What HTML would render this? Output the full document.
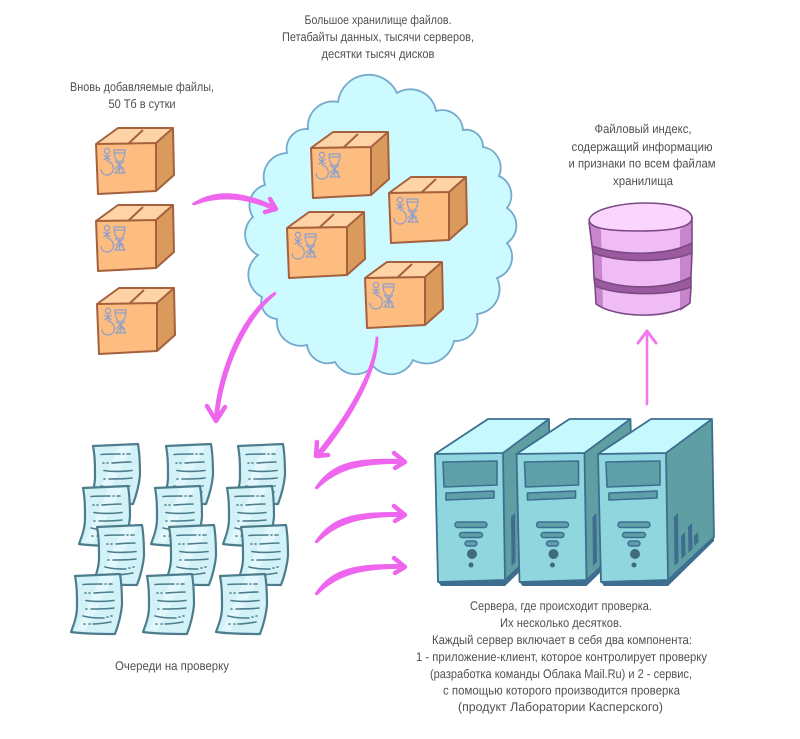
<!DOCTYPE html>
<html lang="ru"><head><meta charset="utf-8"><title>Схема</title>
<style>
html,body{margin:0;padding:0;background:#fff}
svg{display:block}
text{font-family:"Liberation Sans","DejaVu Sans",sans-serif;font-size:12.5px;fill:#505050;text-anchor:middle;text-rendering:geometricPrecision}
</style></head>
<body>
<svg width="800" height="739" viewBox="0 0 800 739" xmlns="http://www.w3.org/2000/svg">
<defs>
<g id="box" stroke-linejoin="round">
  <path d="M0,16 L22,0 L77,0 L60,15 Z" fill="#fed3a5"/>
  <path d="M60,15 L77,0 L78,47 L60,63 Z" fill="#d99a5c"/>
  <path d="M0,16 L60,15 L60,63 L2,66 Z" fill="#fdbd80"/>
  <path d="M0,16 L22,0 L77,0 L78,47 L60,63 L2,66 Z M0,16 L60,15 L77,0 M60,15 L60,63 M32,16 L47,2" fill="none" stroke="#a5613d" stroke-width="2"/>
  <g fill="none" stroke="#8f9fcb" stroke-width="1.2">
    <circle cx="11" cy="23" r="2.6"/>
    <path d="M11,26 L11,33 M7.500,27 L14.500,32 M14.500,27 L7.500,32"/>
    <path d="M11,33 C20,35 19,47 11,47 C7,47 5,44 5,41"/>
    <path d="M18,22 L29,22 C29,29 27,33 23.500,34 C20,33 18,29 18,22 Z M18.500,25 L28.500,25"/>
    <path d="M23.500,34 L23.500,44 M19,33 L28,41 M28,33 L19,41 M19,45 L29,45 L24,39 Z"/>
  </g>
</g>
<g id="paper" stroke-linejoin="round">
  <path d="M4,2 L49,0 C51,12 51,22 51,31 C50,42 47,52 44,60 C30,60 14,60 0,58 C3,50 6,42 6,33 C6,22 6,12 4,2 Z" fill="#d2f2f8" stroke="#4d7d8c" stroke-width="2.200"/>
  <path d="M30,2 L44,2 L14,57 L6,56 Z" fill="#e9fbfd" opacity=".7"/>
  <g fill="none" stroke="#4d7d8c" stroke-width="1.600" stroke-linecap="round">
    <path d="M12,10.500 C20,10 26,10 31,10 M34,10 L35,10 M38,10 L41,10"/>
    <path d="M14,19 L15,19 M18,19 L19,19 M23,19 C30,18.500 36,18 42,18"/>
    <path d="M15,26.500 C24,28 34,27.500 43,26.500"/>
    <path d="M15,35 L16,35 M20,35 C28,35 36,35 43,34"/>
    <path d="M12,42 C20,44 26,44 33,44 M36,43 L37,43 M40,42 L41,42"/>
    <path d="M13,50 L14,50 M18,50 L19,50 M22,50 C28,50 34,49 40,48"/>
  </g>
</g>
<g id="server" stroke-linejoin="round">
  <path d="M3,163 L6,167 L70,167 L116,122 L116,118 L70,161 Z" fill="#3d6e8f"/>
  <path d="M0,35 L53,0 L114,0 L68,34 Z" fill="#c6f9fd"/>
  <path d="M68,34 L114,0 L116,118 L70,161 Z" fill="#5f9fa3"/>
  <path d="M0,35 L68,34 L70,161 L3,163 Z" fill="#8fd6df"/>
  <path d="M0,35 L53,0 L114,0 L116,118 L70,161 L3,163 Z M0,35 L68,34 L114,0 M68,34 L70,161" fill="none" stroke="#3d6e8f" stroke-width="1.800"/>
  <path d="M8,43 L62,42 L62,66 L9,68 Z" fill="#5fa0a8" stroke="#3d6e8f" stroke-width="1.600"/>
  <path d="M11,74 L59,72 L59,79 L11,81 Z" fill="#5fa0a8" stroke="#3d6e8f" stroke-width="1.600"/>
  <rect x="20" y="103" width="32" height="5.500" rx="2.700" fill="#5fa0a8" stroke="#3d6e8f" stroke-width="1.400"/>
  <rect x="24.500" y="113.500" width="23" height="5" rx="2.500" fill="#5fa0a8" stroke="#3d6e8f" stroke-width="1.400"/>
  <rect x="30" y="122" width="12" height="5" rx="2.500" fill="#5fa0a8" stroke="#3d6e8f" stroke-width="1.400"/>
  <circle cx="37" cy="135" r="5" fill="#3f6b7a"/>
  <circle cx="36" cy="146" r="2.500" fill="#3f6b7a"/>
  <path d="M76,98 L80,94 L80.500,143 L76.500,147 Z" fill="#3d6e8f"/>
</g>
</defs>

<!-- cloud -->
<path d="M338,102 A31,31 0 0 1 397,93 A26,26 0 0 1 436,111 A21,21 0 0 1 463,130 A17,17 0 0 1 483,147 A21,21 0 0 1 499,176 A21,21 0 0 1 507,208 A21,21 0 0 1 507,243 A22,22 0 0 1 497,278 A25,25 0 0 1 477,314 A22,22 0 0 1 454,341 A28,28 0 0 1 413,360 A24,24 0 0 1 373,366 A23,23 0 0 1 335,362 A21,21 0 0 1 307,345 A24,24 0 0 1 277,319 A17,17 0 0 1 262,297 A25,25 0 0 1 258,255 A23,23 0 0 1 253,217 A21,21 0 0 1 265,185 A24,24 0 0 1 287,153 A20,20 0 0 1 308,129 A25,25 0 0 1 338,102 Z" fill="#ccfaff" stroke="#74a9cc" stroke-width="1.800"/>

<!-- boxes -->
<use href="#box" x="96" y="128"/>
<use href="#box" x="96" y="205"/>
<use href="#box" x="97" y="288"/>
<use href="#box" x="311" y="132"/>
<use href="#box" x="389" y="177"/>
<use href="#box" x="287" y="212"/>
<use href="#box" x="365" y="262"/>

<!-- database -->
<g stroke-linejoin="round">
  <path d="M589,222 L592,246 L594,279 L596,304 C615,318 670,320 690,303 L691,277 L692,243 L692,217 Z" fill="#f0bcf5"/>
  <path d="M589,222 L592,246 L594,279 L596,304 C598,306 600,307 603,308 L601,230 Z" fill="#c985cc"/>
  <path d="M680,230 L680,311 C684,309 687,306 690,303 L691,277 L692,243 L692,217 Z" fill="#c985cc"/>
  <path d="M592,246 C620,256 668,256 692,243 L692,253 C668,263 620,263 593,253 Z" fill="#9b5a9e"/>
  <path d="M594,278 C620,290 668,290 691,277 L691,287 C668,296 620,296 595,286 Z" fill="#9b5a9e"/>
  <path d="M589,220 C592,208 625,203 645,203 C670,203 690,208 692,217 C693,225 680,231 640,231 C605,231 590,228 589,220 Z" fill="#fcd5ff" stroke="#7a4a85" stroke-width="1.600"/>
  <path d="M589,222 L592,246 L593,253 L594,278 L595,286 L596,304 C615,318 670,320 690,303 L691,287 L691,277 L692,253 L692,217 M592,246 C620,256 668,256 692,243 M593,253 C620,263 668,263 692,253 M594,278 C620,290 668,290 691,277 M595,286 C620,296 668,296 691,287" fill="none" stroke="#7a4a85" stroke-width="1.600"/>
</g>

<!-- papers -->
<use href="#paper" x="89" y="444"/>
<use href="#paper" x="162" y="444"/>
<use href="#paper" x="234" y="444"/>
<use href="#paper" x="79" y="486"/>
<use href="#paper" x="151" y="486"/>
<use href="#paper" x="223" y="486"/>
<use href="#paper" x="93" y="525"/>
<use href="#paper" x="165" y="525"/>
<use href="#paper" x="237" y="525"/>
<use href="#paper" x="71" y="574"/>
<use href="#paper" x="143" y="574"/>
<use href="#paper" x="216" y="574"/>

<!-- servers -->
<use href="#server" x="435" y="419"/>
<use href="#server" x="516.500" y="419"/>
<use href="#server" x="598" y="419"/>
<g fill="#3d6e8f">
  <path d="M681,536 L685,532 L685.500,555 L681.500,559 Z"/>
  <path d="M688,527 L692,523 L692.500,549 L688.500,553 Z"/>
  <path d="M694,536 L698,532 L698.500,542 L694.500,546 Z"/>
</g>

<!-- arrows -->
<g fill="#ee66ee" stroke="#ee66ee" stroke-width="0.800" stroke-linejoin="round">
  <path d="M192,204 C215,188 245,192 274,206 L273,210 C245,197 218,196 194,205 Z"/>
  <path d="M275,292 C243,313 219,365 214,420 L218,420 C223,368 247,318 276,294 Z"/>
  <path d="M376,337 L378,337 C378,372 352,418 319,458 L315,455 C349,414 374,370 376,337 Z"/>
  <path d="M315,488 C333,460 360,458 405,459.500 L405,463.500 C362,463 338,468 317,489 Z"/>
  <path d="M315,542 C333,514 360,512 405,512.500 L405,516.500 C362,516 338,522 317,543 Z"/>
  <path d="M315,594 C333,566 360,564 405,564.500 L405,568.500 C362,568 338,574 317,595 Z"/>
</g>
<g fill="none" stroke="#ee66ee" stroke-width="4.500" stroke-linecap="round" stroke-linejoin="round">
  <path d="M270,199 L276,209 L265,212"/>
  <path d="M207,406 L216,421 L225,407"/>
  <path d="M317,442 L316,456 L328,455"/>
  <path d="M394,453 L405,462 L395,468"/>
  <path d="M394,506 L405,515 L395,521"/>
  <path d="M394,558 L405,567 L395,573"/>
  <path d="M647,404 L647,332" stroke-width="2.600" stroke="#f078ee"/>
  <path d="M638,343 L647,331 L656,343" stroke-width="3" stroke="#f078ee"/>
</g>

<!-- labels -->
<text x="378" y="24" textLength="147" lengthAdjust="spacingAndGlyphs">Большое хранилище файлов.</text>
<text x="378" y="41" textLength="192" lengthAdjust="spacingAndGlyphs">Петабайты данных, тысячи серверов,</text>
<text x="378" y="58" textLength="113" lengthAdjust="spacingAndGlyphs">десятки тысяч дисков</text>
<text x="142" y="91" textLength="144" lengthAdjust="spacingAndGlyphs">Вновь добавляемые файлы,</text>
<text x="142" y="108" textLength="67" lengthAdjust="spacingAndGlyphs">50 Тб в сутки</text>
<text x="643" y="133" textLength="97" lengthAdjust="spacingAndGlyphs">Файловый индекс,</text>
<text x="642" y="151" textLength="141" lengthAdjust="spacingAndGlyphs">содержащий информацию</text>
<text x="642" y="167.500" textLength="147" lengthAdjust="spacingAndGlyphs">и признаки по всем файлам</text>
<text x="643" y="185" textLength="60" lengthAdjust="spacingAndGlyphs">хранилища</text>
<text x="172" y="670" textLength="114" lengthAdjust="spacingAndGlyphs">Очереди на проверку</text>
<text x="561" y="610" textLength="182" lengthAdjust="spacingAndGlyphs">Сервера, где происходит проверка.</text>
<text x="561" y="627" textLength="122" lengthAdjust="spacingAndGlyphs">Их несколько десятков.</text>
<text x="562" y="644" textLength="260" lengthAdjust="spacingAndGlyphs">Каждый сервер включает в себя два компонента:</text>
<text x="561.500" y="661" textLength="291" lengthAdjust="spacingAndGlyphs">1 - приложение-клиент, которое контролирует проверку</text>
<text x="561" y="678" textLength="262" lengthAdjust="spacingAndGlyphs">(разработка команды Облака Mail.Ru) и 2 - сервис,</text>
<text x="561.500" y="694.500" textLength="237" lengthAdjust="spacingAndGlyphs">с помощью которого производится проверка</text>
<text x="560.500" y="711" textLength="205" lengthAdjust="spacingAndGlyphs">(продукт Лаборатории Касперского)</text>
</svg>
</body></html>
